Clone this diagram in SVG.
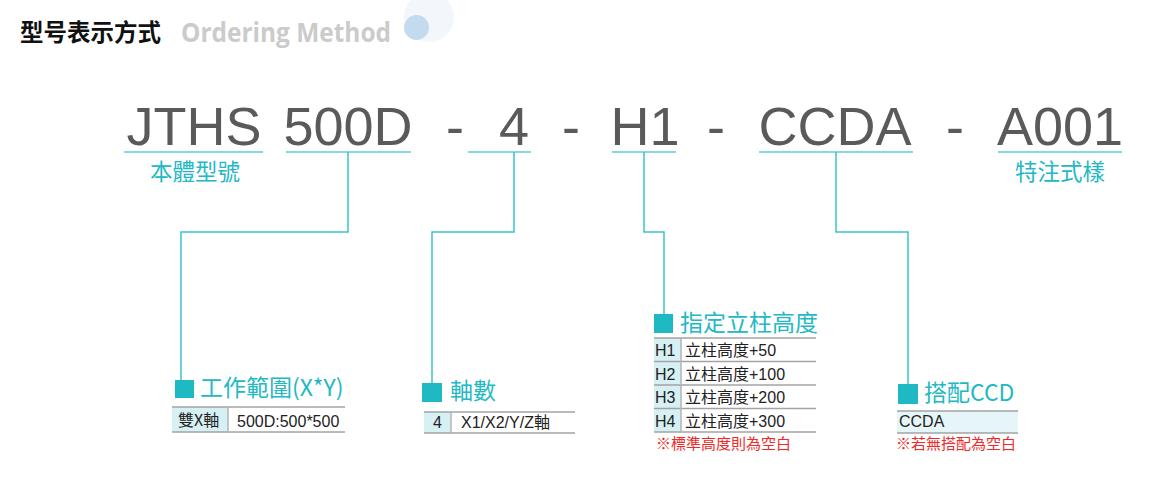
<svg xmlns="http://www.w3.org/2000/svg" width="1162" height="486" viewBox="0 0 1162 486">
<style>
.code{font-family:"Liberation Sans",Arial,sans-serif;font-size:54px;fill:#5a5a5c;text-anchor:middle}
.sub{font-family:"Noto Sans CJK TC","Noto Sans",sans-serif;font-size:22.5px;fill:#22b8c4;text-anchor:middle}
.ttl{font-family:"Noto Sans CJK TC","Noto Sans",sans-serif;font-size:23px;fill:#22b8c4}
.cell{font-family:"Liberation Sans","Noto Sans CJK TC",sans-serif;font-size:16px;fill:#222}
.cjk{font-family:"Noto Sans CJK TC",sans-serif}
.note{font-family:"Noto Sans CJK TC",sans-serif;font-size:15px;fill:#f02828}
.ul{stroke:#5ccdd4;stroke-width:1.5;fill:none}
.con{stroke:#3cc2cb;stroke-width:1.5;fill:none}
.sq{fill:#1fb9c4}
.tl{stroke:#a3a3a3;stroke-width:1.5}
.dv{stroke:#b4b4b4;stroke-width:1.5}
.hd{fill:#d6f0f3}
</style>
<rect width="1162" height="486" fill="#ffffff"/>
<g id="header">
<circle cx="429" cy="17" r="25" fill="#f3f7fc"/>
<circle cx="416.5" cy="27.5" r="12.5" fill="#c2dbef"/>
<text x="20" y="41" font-family="Noto Sans CJK SC,sans-serif" font-size="23.5" font-weight="bold" fill="#111">型号表示方式</text>
<text x="181" y="42" font-family="Open Sans,sans-serif" font-size="26" font-weight="bold" fill="#cbcbcb" textLength="210" lengthAdjust="spacingAndGlyphs">Ordering Method</text>
</g>
<g id="code">
<text class="code" x="194" y="145">JTHS</text>
<text class="code" x="348" y="145">500D</text>
<text class="code" x="455" y="145">-</text>
<text class="code" x="514" y="145">4</text>
<text class="code" x="571" y="145">-</text>
<text class="code" x="645" y="145">H1</text>
<text class="code" x="716" y="145">-</text>
<text class="code" x="835" y="145">CCDA</text>
<text class="code" x="955" y="145">-</text>
<text class="code" x="1060" y="145">A001</text>
<line class="ul" x1="124" y1="152" x2="263" y2="152"/>
<line class="ul" x1="286" y1="152" x2="411" y2="152"/>
<line class="ul" x1="468" y1="152" x2="531" y2="152"/>
<line class="ul" x1="612" y1="152" x2="676" y2="152"/>
<line class="ul" x1="759" y1="152" x2="913" y2="152"/>
<line class="ul" x1="998" y1="152" x2="1122" y2="152"/>
<text class="sub" x="195" y="180">本體型號</text>
<text class="sub" x="1060" y="180">特注式樣</text>
</g>
<g id="connectors">
<path class="con" d="M348,152 V232 H181 V380"/>
<path class="con" d="M514,152 V232 H432 V383"/>
<path class="con" d="M644,152 V232 H664 V314"/>
<path class="con" d="M836,152 V232 H908 V384"/>
</g>
<g id="node-range">
<rect class="sq" x="175" y="380" width="19" height="18"/>
<text class="ttl" x="200" y="396">工作範圍(X*Y)</text>
<rect class="hd" x="172" y="407" width="56" height="25"/>
<line class="tl" x1="172" y1="407" x2="345" y2="407"/>
<line class="tl" x1="172" y1="432" x2="345" y2="432"/>
<line class="dv" x1="228" y1="407" x2="228" y2="432"/>
<text class="cell cjk" x="178" y="426">雙X軸</text>
<text class="cell" x="237" y="427">500D:500*500</text>
</g>
<g id="node-axis">
<rect class="sq" x="422" y="383" width="20" height="19"/>
<text class="ttl" x="450" y="399">軸數</text>
<rect class="hd" x="424" y="412" width="27" height="21"/>
<line class="tl" x1="424" y1="412" x2="575" y2="412"/>
<line class="tl" x1="424" y1="433" x2="575" y2="433"/>
<line class="dv" x1="451" y1="412" x2="451" y2="433"/>
<text class="cell" x="433" y="428">4</text>
<text class="cell" x="461" y="428">X1/X2/Y/Z軸</text>
</g>
<g id="node-height">
<rect class="sq" x="654" y="314" width="19" height="19"/>
<text class="ttl" x="680" y="331">指定立柱高度</text>
<rect class="hd" x="654" y="338" width="27" height="94"/>
<line class="tl" x1="654" y1="338" x2="816" y2="338"/>
<line class="tl" x1="654" y1="361.5" x2="816" y2="361.5"/>
<line class="tl" x1="654" y1="385" x2="816" y2="385"/>
<line class="tl" x1="654" y1="408.5" x2="816" y2="408.5"/>
<line class="tl" x1="654" y1="432" x2="816" y2="432"/>
<line class="dv" x1="681" y1="338" x2="681" y2="432"/>
<text class="cell" x="655" y="356">H1</text>
<text class="cell" x="685" y="356"><tspan class="cjk">立柱高度</tspan>+50</text>
<text class="cell" x="655" y="379.5">H2</text>
<text class="cell" x="685" y="379.5"><tspan class="cjk">立柱高度</tspan>+100</text>
<text class="cell" x="655" y="403">H3</text>
<text class="cell" x="685" y="403"><tspan class="cjk">立柱高度</tspan>+200</text>
<text class="cell" x="655" y="426.5">H4</text>
<text class="cell" x="685" y="426.5"><tspan class="cjk">立柱高度</tspan>+300</text>
<text class="note" x="656" y="449">※標準高度則為空白</text>
</g>
<g id="node-ccd">
<rect class="sq" x="898" y="384" width="20" height="20"/>
<text class="ttl" x="924" y="401">搭配CCD</text>
<rect x="897" y="411" width="121" height="22" fill="#e6f6f8"/>
<line class="tl" x1="897" y1="411" x2="1018" y2="411"/>
<line class="tl" x1="897" y1="433" x2="1018" y2="433"/>
<text class="cell" x="899" y="427" font-size="15">CCDA</text>
<text class="note" x="896" y="449">※若無搭配為空白</text>
</g>
</svg>
